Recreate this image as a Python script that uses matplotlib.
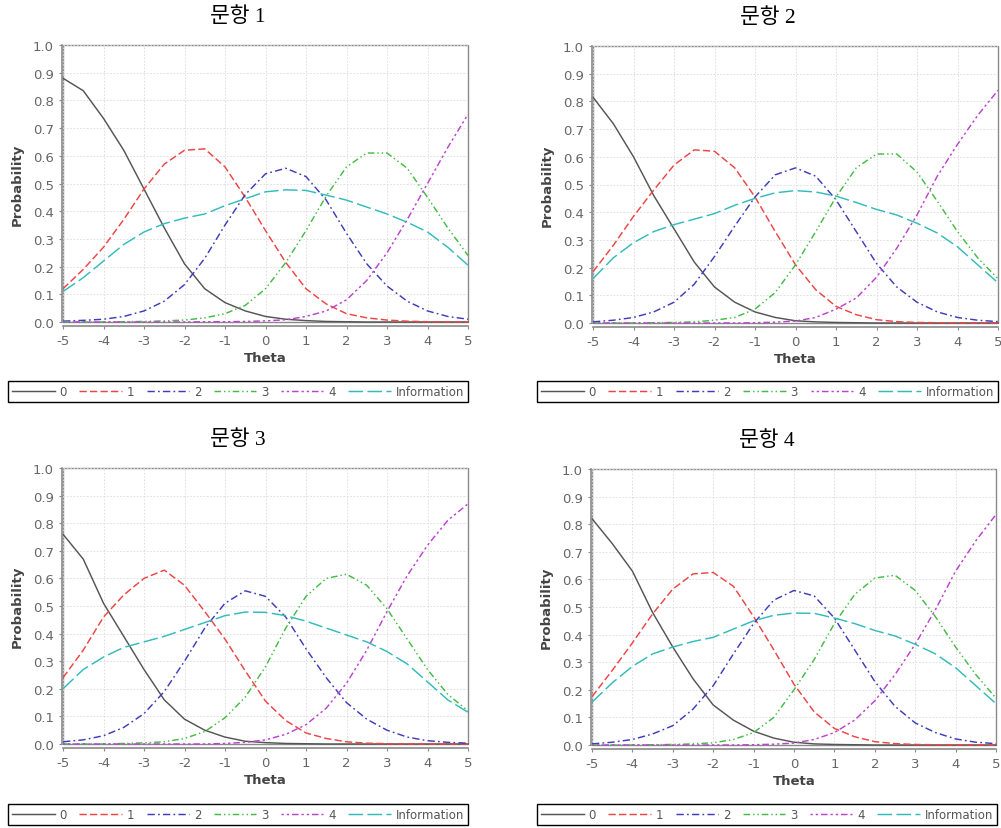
import numpy as np
import matplotlib.pyplot as plt

plt.rcParams['axes.unicode_minus'] = False
plt.rcParams['font.family'] = ['DejaVu Sans']

# theta grid shared by every curve
theta = np.arange(-5, 5.01, 0.5)

# item 1
i1_c0 = [0.88, 0.835, 0.735, 0.62, 0.48, 0.34, 0.21, 0.12, 0.07, 0.04, 0.02, 0.01, 0.005, 0.002, 0.001, 0, 0, 0, 0, 0, 0]
i1_c1 = [0.12, 0.19, 0.27, 0.37, 0.48, 0.57, 0.62, 0.625, 0.56, 0.45, 0.33, 0.215, 0.12, 0.065, 0.03, 0.015, 0.007, 0.003, 0.001, 0, 0]
i1_c2 = [0.003, 0.006, 0.01, 0.02, 0.04, 0.075, 0.135, 0.23, 0.35, 0.46, 0.535, 0.555, 0.525, 0.44, 0.32, 0.21, 0.13, 0.075, 0.04, 0.02, 0.01]
i1_c3 = [0, 0, 0, 0.001, 0.002, 0.004, 0.007, 0.015, 0.03, 0.06, 0.12, 0.215, 0.33, 0.455, 0.56, 0.61, 0.61, 0.555, 0.45, 0.34, 0.24]
i1_c4 = [0, 0, 0, 0, 0, 0, 0, 0.001, 0.001, 0.002, 0.004, 0.008, 0.02, 0.04, 0.08, 0.15, 0.25, 0.37, 0.5, 0.63, 0.75]
i1_info = [0.11, 0.16, 0.22, 0.28, 0.325, 0.355, 0.375, 0.39, 0.42, 0.445, 0.47, 0.477, 0.475, 0.458, 0.44, 0.415, 0.39, 0.36, 0.325, 0.27, 0.205]

# item 2
i2_c0 = [0.815, 0.72, 0.6, 0.46, 0.34, 0.22, 0.13, 0.075, 0.04, 0.02, 0.008, 0.004, 0.002, 0.001, 0, 0, 0, 0, 0, 0, 0]
i2_c1 = [0.185, 0.28, 0.385, 0.48, 0.57, 0.625, 0.62, 0.56, 0.455, 0.33, 0.21, 0.12, 0.06, 0.03, 0.012, 0.005, 0.002, 0.001, 0, 0, 0]
i2_c2 = [0.004, 0.01, 0.02, 0.04, 0.075, 0.14, 0.24, 0.35, 0.455, 0.535, 0.56, 0.53, 0.445, 0.33, 0.215, 0.13, 0.075, 0.04, 0.02, 0.01, 0.005]
i2_c3 = [0, 0, 0, 0.001, 0.002, 0.004, 0.01, 0.02, 0.05, 0.11, 0.21, 0.33, 0.455, 0.56, 0.61, 0.61, 0.545, 0.44, 0.33, 0.235, 0.16]
i2_c4 = [0, 0, 0, 0, 0, 0, 0, 0, 0.001, 0.003, 0.007, 0.02, 0.05, 0.09, 0.165, 0.27, 0.39, 0.53, 0.645, 0.75, 0.84]
i2_info = [0.16, 0.235, 0.29, 0.33, 0.355, 0.375, 0.395, 0.425, 0.45, 0.47, 0.478, 0.473, 0.458, 0.435, 0.41, 0.39, 0.36, 0.325, 0.275, 0.21, 0.145]

# item 3
i3_c0 = [0.76, 0.67, 0.51, 0.39, 0.27, 0.16, 0.09, 0.05, 0.025, 0.01, 0.005, 0.002, 0.001, 0, 0, 0, 0, 0, 0, 0, 0]
i3_c1 = [0.24, 0.34, 0.46, 0.54, 0.6, 0.63, 0.575, 0.48, 0.38, 0.265, 0.155, 0.085, 0.04, 0.02, 0.008, 0.003, 0.001, 0, 0, 0, 0]
i3_c2 = [0.008, 0.015, 0.03, 0.06, 0.11, 0.19, 0.3, 0.42, 0.51, 0.555, 0.535, 0.46, 0.345, 0.24, 0.15, 0.09, 0.05, 0.025, 0.012, 0.006, 0.003]
i3_c3 = [0, 0, 0, 0.002, 0.004, 0.008, 0.02, 0.045, 0.095, 0.17, 0.28, 0.42, 0.535, 0.6, 0.615, 0.575, 0.49, 0.38, 0.27, 0.18, 0.12]
i3_c4 = [0, 0, 0, 0, 0, 0, 0, 0, 0.002, 0.006, 0.015, 0.035, 0.07, 0.13, 0.22, 0.34, 0.48, 0.61, 0.72, 0.81, 0.87]
i3_info = [0.2, 0.27, 0.315, 0.35, 0.37, 0.39, 0.415, 0.44, 0.465, 0.478, 0.477, 0.465, 0.445, 0.42, 0.395, 0.37, 0.335, 0.29, 0.225, 0.16, 0.115]

# item 4
i4_c0 = [0.82, 0.73, 0.63, 0.48, 0.355, 0.24, 0.145, 0.09, 0.05, 0.025, 0.01, 0.004, 0.002, 0.001, 0, 0, 0, 0, 0, 0, 0]
i4_c1 = [0.175, 0.27, 0.37, 0.475, 0.565, 0.62, 0.625, 0.575, 0.465, 0.345, 0.22, 0.12, 0.06, 0.03, 0.012, 0.005, 0.002, 0.001, 0, 0, 0]
i4_c2 = [0.004, 0.01, 0.02, 0.04, 0.07, 0.13, 0.215, 0.33, 0.44, 0.525, 0.56, 0.54, 0.46, 0.345, 0.23, 0.14, 0.08, 0.045, 0.022, 0.01, 0.005]
i4_c3 = [0, 0, 0, 0.001, 0.002, 0.004, 0.008, 0.02, 0.045, 0.1, 0.2, 0.31, 0.44, 0.545, 0.605, 0.615, 0.56, 0.465, 0.355, 0.255, 0.17]
i4_c4 = [0, 0, 0, 0, 0, 0, 0, 0, 0.001, 0.003, 0.007, 0.02, 0.045, 0.09, 0.16, 0.255, 0.365, 0.49, 0.63, 0.74, 0.835]
i4_info = [0.155, 0.225, 0.285, 0.33, 0.355, 0.375, 0.39, 0.42, 0.45, 0.47, 0.478, 0.477, 0.46, 0.44, 0.415, 0.395, 0.365, 0.33, 0.28, 0.215, 0.15]

titles = ['문항 1', '문항 2', '문항 3', '문항 4']
series_labels = ['0', '1', '2', '3', '4', 'Information']
items = [
    [i1_c0, i1_c1, i1_c2, i1_c3, i1_c4, i1_info],
    [i2_c0, i2_c1, i2_c2, i2_c3, i2_c4, i2_info],
    [i3_c0, i3_c1, i3_c2, i3_c3, i3_c4, i3_info],
    [i4_c0, i4_c1, i4_c2, i4_c3, i4_c4, i4_info],
]

colors = ['#555555', '#ee4444', '#3d3dbb', '#44bb44', '#bb44cc', '#33bbbb']
styles = ['-', (0, (5, 2.2)), (0, (5, 2.2, 1.2, 2.2)), (0, (4.5, 2, 1, 2, 1, 2)),
          (0, (1.6, 2, 1.6, 2, 4.5, 2)), (0, (10, 3))]

W, H = 1001, 829
fig = plt.figure(figsize=(W / 100, H / 100), dpi=100)

# plot areas in pixels: left, top, right, bottom
boxes = [(63, 46, 468, 323), (593, 47, 998, 324), (63, 469, 468, 745), (592, 470, 996, 746)]
# legend boxes in pixels
leg_boxes = [(8, 377, 468, 403), (537, 377, 998, 403), (8, 800, 468, 826), (537, 800, 997, 826)]

for k in range(4):
    l, t, r, b = boxes[k]
    ax = fig.add_axes([l / W, 1 - b / H, (r - l) / W, (b - t) / H])
    lines = []
    for vals, c, ls, lab in zip(items[k], colors, styles, series_labels):
        ln, = ax.plot(theta, vals, color=c, linestyle=ls, lw=1.05, label=lab, clip_on=False)
        lines.append(ln)

    ax.set_xlim(-5, 5)
    ax.set_ylim(0, 1)
    ax.set_xticks(range(-5, 6))
    ax.set_yticks(np.arange(0, 1.01, 0.1))
    ax.set_yticklabels(['%.1f' % v for v in np.arange(0, 1.01, 0.1)])
    ax.grid(True, color='#dadada', lw=0.6, linestyle=(0, (2, 2)))
    ax.set_axisbelow(True)

    ax.patch.set_edgecolor('#8a8a8a')
    ax.patch.set_linewidth(1.0)
    ax.spines['top'].set_visible(False)
    ax.spines['right'].set_visible(False)
    ax.spines['left'].set_position(('outward', 1))
    ax.spines['bottom'].set_position(('outward', 3))
    for s in ('left', 'bottom'):
        ax.spines[s].set_color('#8a8a8a')
        ax.spines[s].set_linewidth(1.2)
    ax.tick_params(colors='#8a8a8a', labelcolor='#666666', labelsize=9.5, length=2.5, width=0.8, pad=3)

    ax.set_xlabel('Theta', fontsize=9.5, fontweight='bold', color='#444444')
    ax.set_ylabel('Probability', fontsize=9.5, fontweight='bold', color='#444444')
    ax.xaxis.set_label_coords(0.5, -0.105)
    ax.yaxis.set_label_coords(-0.097, 0.5)

    lx0, ly0, lx1, ly1 = leg_boxes[k]
    fig.text((lx0 + lx1) / 2 / W, 1 - (t - 29) / H, titles[k], ha='center', va='center',
             fontsize=15.5, family=['Liberation Serif', 'Noto Sans CJK KR'])

    leg = fig.legend(handles=lines, loc='lower left', mode='expand', ncol=6,
                     bbox_to_anchor=(lx0 / W, 1 - ly1 / H, (lx1 - lx0) / W, (ly1 - ly0) / H),
                     borderaxespad=0, fontsize=8.5, handlelength=3.6, handletextpad=0.4,
                     columnspacing=0.8, borderpad=0.35, fancybox=False, framealpha=1)
    leg.get_frame().set_edgecolor('black')
    leg.get_frame().set_linewidth(1.0)
    for txt in leg.get_texts():
        txt.set_color('#555555')

fig.savefig('out.png', dpi=100)
